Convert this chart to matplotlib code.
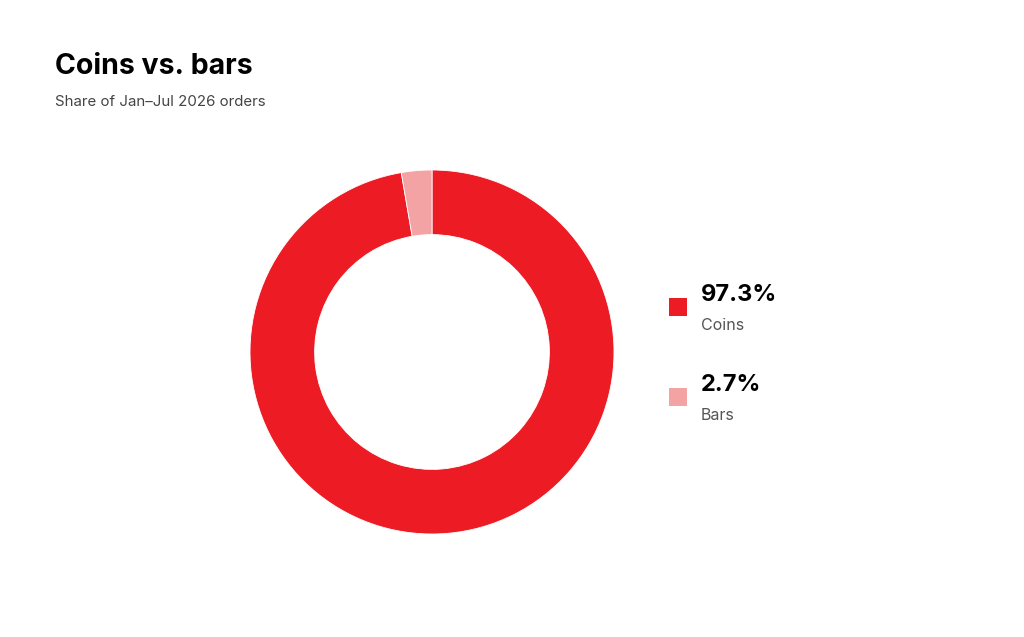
import matplotlib.pyplot as plt
from matplotlib.patches import Rectangle

labels = ['Coins', 'Bars']
shares = [97.3, 2.7]
colors = ['#ED1C24', '#F4A3A5']

title = 'Coins vs. bars'
subtitle = 'Share of Jan\u2013Jul 2026 orders'

plt.rcParams['font.family'] = ['Inter', 'DejaVu Sans']

W, H = 1024, 637
fig = plt.figure(figsize=(W / 100, H / 100), dpi=100)
fig.patch.set_facecolor('white')

# donut: centre (432, 352), outer radius 182 px
cx, cy, r = 432, 352, 182
ax = fig.add_axes([(cx - r) / W, (H - cy - r) / H, 2 * r / W, 2 * r / H])
ax.pie(shares, colors=colors, startangle=90, counterclock=False,
       radius=1.0, wedgeprops=dict(width=0.355, edgecolor='white', linewidth=0.6))
ax.set_xlim(-1, 1)
ax.set_ylim(-1, 1)
ax.set_aspect('equal')
ax.axis('off')

fig.text(55 / W, 1 - 67 / H, title, fontsize=20.5, fontweight='bold',
         color='#000000', va='center', ha='left')
fig.text(55 / W, 1 - 102 / H, subtitle, fontsize=10.8, color='#444444',
         va='center', ha='left')

# legend
for i, (lab, val, col) in enumerate(zip(labels, shares, colors)):
    y0 = 307 + i * 90
    fig.patches.append(Rectangle((669 / W, 1 - (y0 + 9) / H), 18 / W, 18 / H,
                                 transform=fig.transFigure, facecolor=col,
                                 edgecolor='none'))
    fig.text(701 / W, 1 - (y0 - 12) / H, f'{val}%', fontsize=17,
             fontweight='bold', color='#000000', va='center', ha='left')
    fig.text(701 / W, 1 - (y0 + 19) / H, lab, fontsize=11.5,
             color='#555555', va='center', ha='left')

fig.savefig('out.png', dpi=100, facecolor='white')
